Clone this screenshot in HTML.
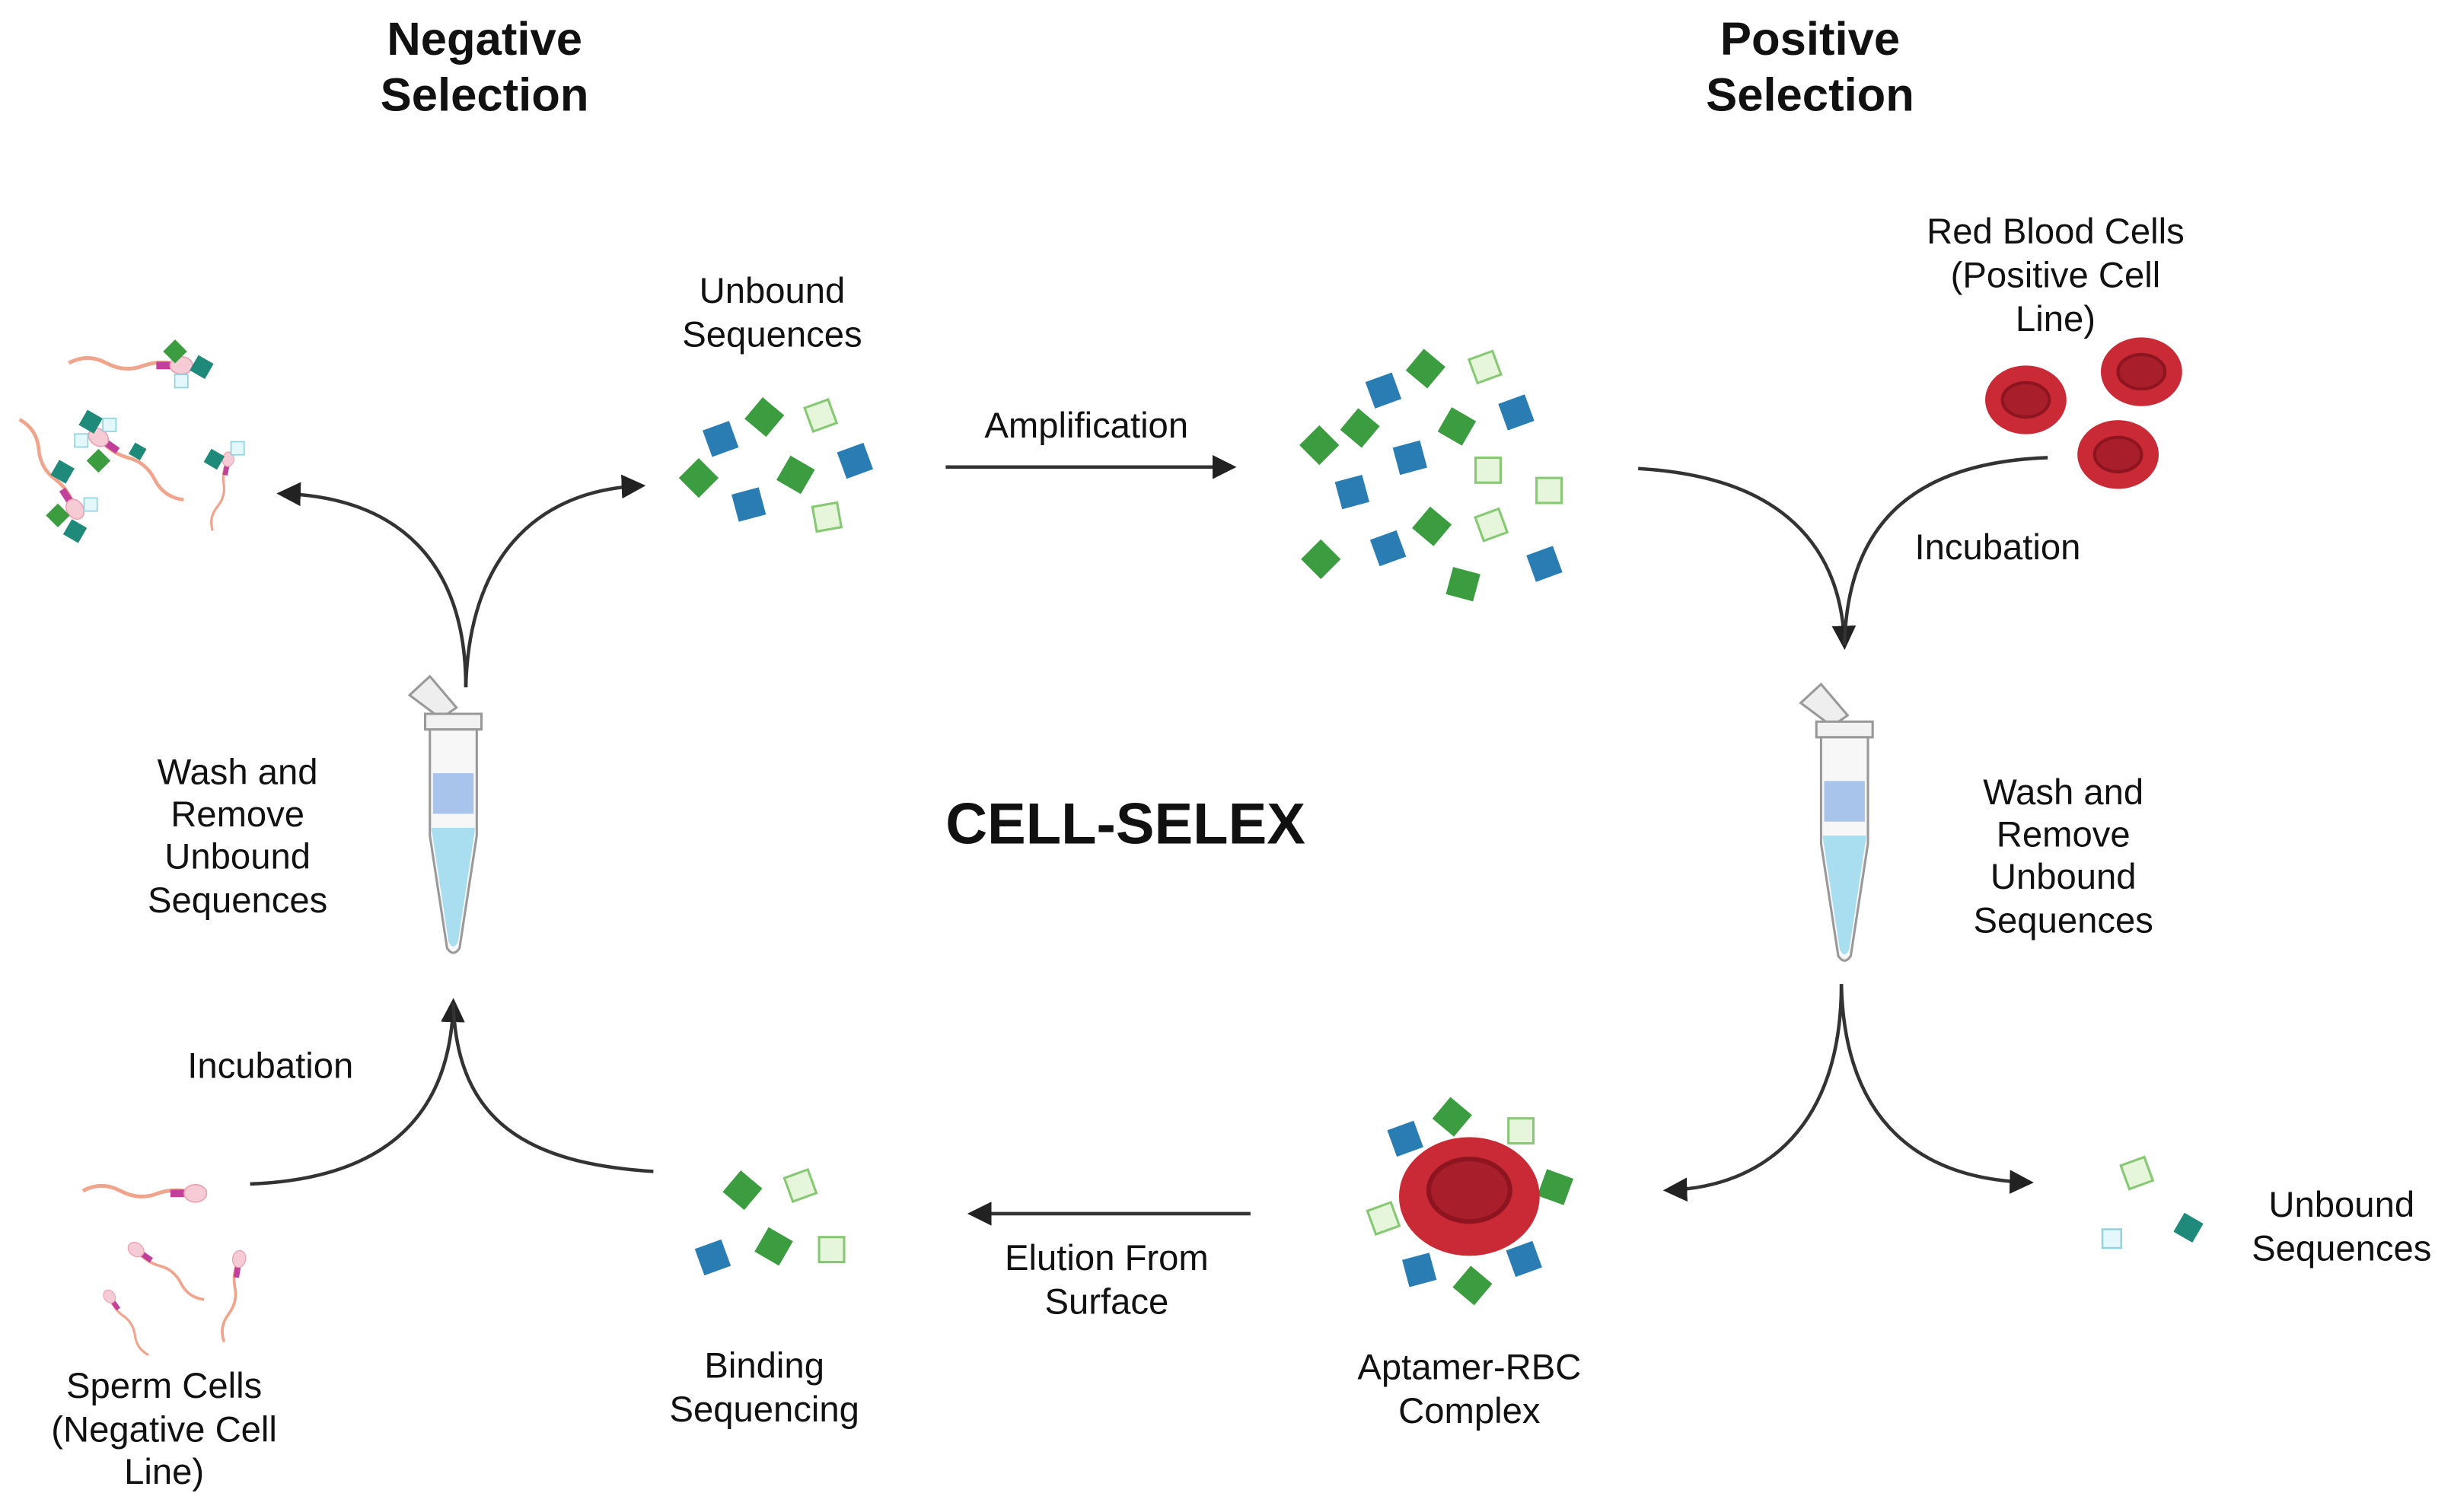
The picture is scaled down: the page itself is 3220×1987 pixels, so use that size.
<!DOCTYPE html>
<html><head><meta charset="utf-8"><style>
html,body{margin:0;padding:0;background:#fff;width:3220px;height:1987px;overflow:hidden}
svg{display:block}
text{font-family:"Liberation Sans",sans-serif;fill:#111;text-anchor:middle}
.t{font-size:23px}
.b{font-weight:bold;font-size:30px}
</style></head><body>
<svg width="3220" height="1987" viewBox="0 0 1568 968" preserveAspectRatio="none" xmlns="http://www.w3.org/2000/svg">
<defs>
<marker id="ah" viewBox="0 0 10 10" refX="8" refY="5" markerWidth="7" markerHeight="7" orient="auto-start-reverse"><path d="M0,0 L10,5 L0,10 z" fill="#222"/></marker>
<g id="G"><rect x="-9" y="-9" width="18" height="18" fill="#3c9c40"/></g>
<g id="B"><rect x="-9" y="-9" width="18" height="18" fill="#2a7db3"/></g>
<g id="L"><rect x="-8" y="-8" width="16" height="16" fill="#e6f6da" stroke="#86c873" stroke-width="1.5"/></g>
<g id="T"><rect x="-7" y="-7" width="14" height="14" fill="#1f8a7a"/></g>
<g id="C"><rect x="-6" y="-6" width="12" height="12" fill="#e4f7fa" stroke="#8fd3df" stroke-width="1.2"/></g>
<g id="tube">
<path d="M-28,-70 L-15,-82 L2,-62 L-8,-55 z" fill="#eee" stroke="#999" stroke-width="1.5"/>
<rect x="-18" y="-58" width="36" height="10" fill="#f2f2f2" stroke="#999" stroke-width="1.5"/>
<path d="M-15,-48 L15,-48 L15,20 L4,92 Q0,98 -4,92 L-15,20 z" fill="#f7f7f7" stroke="#999" stroke-width="1.5"/>
<rect x="-13" y="-20" width="26" height="26" fill="#a9c4ea"/>
<path d="M-14,15 L14,15 L3,88 Q0,94 -3,88 z" fill="#a8def0"/>
</g>
<g id="rbc"><ellipse rx="26" ry="22" fill="#c92a35"/><ellipse rx="15" ry="11" fill="#a81e2a" stroke="#8e1420" stroke-width="2"/></g>
<g id="sp"><path d="M0,0 q-15,-5 -30,0 q-15,6 -30,-2 q-15,-8 -30,0" fill="none" stroke="#f0a48c" stroke-width="3"/><rect x="-20" y="-3" width="16" height="6" fill="#c0409a"/><ellipse rx="9" ry="7" fill="#f6cbd6" stroke="#eaa0b0"/></g>
</defs>

<text class="b" x="310" y="35">Negative</text>
<text class="b" x="310" y="71">Selection</text>
<text class="b" x="1158" y="35">Positive</text>
<text class="b" x="1158" y="71">Selection</text>
<text x="720" y="540" style="font-weight:bold;font-size:37px">CELL-SELEX</text>

<text class="t" x="494" y="194">Unbound</text>
<text class="t" x="494" y="222">Sequences</text>
<text class="t" x="695" y="280">Amplification</text>
<text class="t" x="1315" y="156">Red Blood Cells</text>
<text class="t" x="1315" y="184">(Positive Cell</text>
<text class="t" x="1315" y="212">Line)</text>
<text class="t" x="1278" y="358">Incubation</text>
<text class="t" x="152" y="502">Wash and</text>
<text class="t" x="152" y="529">Remove</text>
<text class="t" x="152" y="556">Unbound</text>
<text class="t" x="152" y="584">Sequences</text>
<text class="t" x="1320" y="515">Wash and</text>
<text class="t" x="1320" y="542">Remove</text>
<text class="t" x="1320" y="569">Unbound</text>
<text class="t" x="1320" y="597">Sequences</text>
<text class="t" x="173" y="690">Incubation</text>
<text class="t" x="105" y="895">Sperm Cells</text>
<text class="t" x="105" y="923">(Negative Cell</text>
<text class="t" x="105" y="950">Line)</text>
<text class="t" x="489" y="882">Binding</text>
<text class="t" x="489" y="910">Sequencing</text>
<text class="t" x="708" y="813">Elution From</text>
<text class="t" x="708" y="841">Surface</text>
<text class="t" x="940" y="883">Aptamer-RBC</text>
<text class="t" x="940" y="911">Complex</text>
<text class="t" x="1498" y="779">Unbound</text>
<text class="t" x="1498" y="807">Sequences</text>

<g fill="none" stroke="#333" stroke-width="2.2">
<line x1="605" y1="299" x2="788" y2="299" marker-end="url(#ah)"/>
<line x1="800" y1="777" x2="622" y2="777" marker-end="url(#ah)"/>
<path d="M298,440 C298,360 255,318 180,316" marker-end="url(#ah)"/>
<path d="M298,440 C300,360 340,314 410,311" marker-end="url(#ah)"/>
<path d="M160,758 C240,755 288,720 290,642" marker-end="url(#ah)"/>
<path d="M418,750 C340,745 292,720 290,642"/>
<path d="M1048,300 C1140,305 1178,350 1180,413" marker-end="url(#ah)"/>
<path d="M1310,293 C1230,296 1182,330 1180,413"/>
<path d="M1178,630 C1178,720 1130,760 1067,762" marker-end="url(#ah)"/>
<path d="M1178,630 C1180,720 1230,755 1298,757" marker-end="url(#ah)"/>
</g>

<use href="#tube" x="290" y="515"/>
<use href="#tube" x="1180" y="520"/>

<use href="#B" transform="translate(461,281) rotate(-20)"/>
<use href="#G" transform="translate(489,267) rotate(40)"/>
<use href="#L" transform="translate(525,266) rotate(-20)"/>
<use href="#G" transform="translate(447,306) rotate(45)"/>
<use href="#G" transform="translate(509,304) rotate(30)"/>
<use href="#B" transform="translate(547,295) rotate(-20)"/>
<use href="#B" transform="translate(479,323) rotate(-15)"/>
<use href="#L" transform="translate(529,331) rotate(-10)"/>

<use href="#B" transform="translate(885,250) rotate(-20)"/>
<use href="#G" transform="translate(912,236) rotate(40)"/>
<use href="#L" transform="translate(950,235) rotate(-20)"/>
<use href="#G" transform="translate(870,274) rotate(40)"/>
<use href="#G" transform="translate(844,285) rotate(45)"/>
<use href="#G" transform="translate(932,273) rotate(30)"/>
<use href="#B" transform="translate(970,264) rotate(-20)"/>
<use href="#B" transform="translate(902,293) rotate(-15)"/>
<use href="#L" transform="translate(952,301) rotate(0)"/>
<use href="#L" transform="translate(991,314) rotate(0)"/>
<use href="#B" transform="translate(865,315) rotate(-15)"/>
<use href="#G" transform="translate(916,337) rotate(40)"/>
<use href="#L" transform="translate(954,336) rotate(-20)"/>
<use href="#B" transform="translate(888,351) rotate(-20)"/>
<use href="#G" transform="translate(845,358) rotate(45)"/>
<use href="#B" transform="translate(988,361) rotate(-20)"/>
<use href="#G" transform="translate(936,374) rotate(15)"/>

<use href="#G" transform="translate(475,762) rotate(40)"/>
<use href="#L" transform="translate(512,759) rotate(-20)"/>
<use href="#G" transform="translate(495,798) rotate(30)"/>
<use href="#B" transform="translate(456,805) rotate(-20)"/>
<use href="#L" transform="translate(532,800) rotate(0)"/>

<use href="#L" transform="translate(1367,751) rotate(-20)"/>
<use href="#C" transform="translate(1351,793)"/>
<use href="#T" transform="translate(1400,786) rotate(30)"/>

<use href="#rbc" x="1296" y="256"/>
<use href="#rbc" x="1370" y="238"/>
<use href="#rbc" x="1355" y="291"/>

<use href="#B" transform="translate(899,729) rotate(-20)"/>
<use href="#G" transform="translate(929,715) rotate(40)"/>
<use href="#L" transform="translate(973,724)"/>
<use href="#G" transform="translate(995,760) rotate(20)"/>
<use href="#L" transform="translate(885,780) rotate(-20)"/>
<use href="#B" transform="translate(975,806) rotate(-20)"/>
<use href="#B" transform="translate(908,813) rotate(-15)"/>
<use href="#G" transform="translate(942,823) rotate(40)"/>
<ellipse cx="940" cy="766" rx="45" ry="38" fill="#c92a35"/>
<ellipse cx="940" cy="762" rx="26" ry="20" fill="#a81e2a" stroke="#8e1420" stroke-width="3"/>

<use href="#sp" transform="translate(116,234) scale(0.8)"/>
<use href="#sp" transform="translate(63,280) rotate(-145) scale(0.75)"/>
<use href="#sp" transform="translate(48,326) rotate(57) scale(0.75)"/>
<use href="#sp" transform="translate(146,294) rotate(-79) scale(0.52)"/>
<use href="#G" transform="translate(112,225) rotate(45) scale(0.6)"/>
<use href="#T" transform="translate(129,235) rotate(30) scale(0.8)"/>
<use href="#C" transform="translate(116,244) scale(0.7)"/>
<use href="#T" transform="translate(58,270) rotate(30) scale(0.8)"/>
<use href="#C" transform="translate(70,272) scale(0.7)"/>
<use href="#C" transform="translate(52,282) scale(0.7)"/>
<use href="#G" transform="translate(63,295) rotate(45) scale(0.6)"/>
<use href="#T" transform="translate(88,289) rotate(30) scale(0.6)"/>
<use href="#T" transform="translate(40,302) rotate(30) scale(0.8)"/>
<use href="#G" transform="translate(37,330) rotate(45) scale(0.6)"/>
<use href="#C" transform="translate(58,323) scale(0.7)"/>
<use href="#T" transform="translate(48,340) rotate(30) scale(0.8)"/>
<use href="#T" transform="translate(137,294) rotate(30) scale(0.7)"/>
<use href="#C" transform="translate(152,287) scale(0.7)"/>

<use href="#sp" transform="translate(125,764) scale(0.8)"/>
<use href="#sp" transform="translate(87,800) rotate(-145) scale(0.6)"/>
<use href="#sp" transform="translate(70,830) rotate(-125) scale(0.5)"/>
<use href="#sp" transform="translate(153,806) rotate(-81) scale(0.6)"/>
</svg>
</body></html>
